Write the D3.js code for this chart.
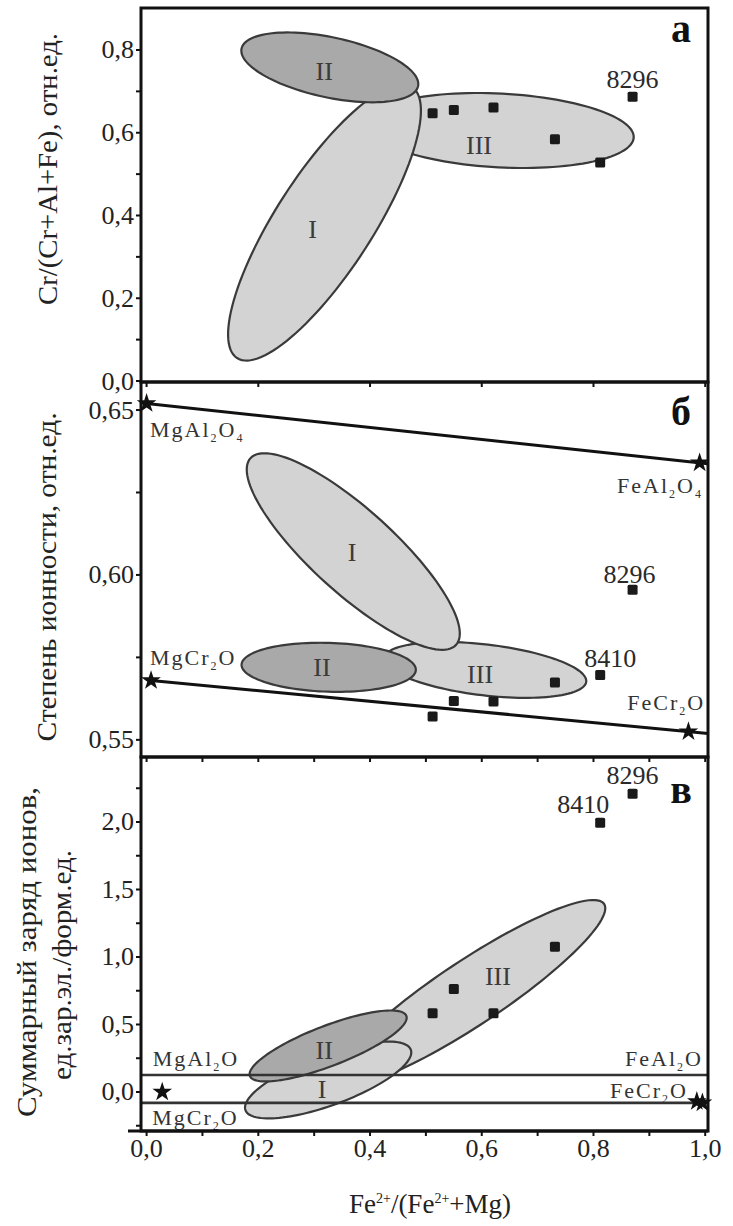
<!DOCTYPE html>
<html>
<head>
<meta charset="utf-8">
<script src="https://cdn.jsdelivr.net/npm/d3@7"></script>
<style>
body{margin:0;background:#fff}
text{font-family:"Liberation Serif","Times New Roman",serif;fill:#222}
</style>
</head>
<body>
<div id="chart"></div>
<script>
var width = 733,
	height = 1226;

// samples: Fe2+/(Fe2++Mg) and the three parameters
var sampleNames = ["", "", "", "", "8410", "8296"];
var feRatio = [0.512, 0.550, 0.621, 0.731, 0.812, 0.870];
var crNumber = [0.647, 0.655, 0.661, 0.584, 0.528, 0.687];
var ionicity = [0.5571, 0.5618, 0.5616, 0.5674, 0.5697, 0.5955];
var charge = [0.583, 0.763, 0.583, 1.076, 1.995, 2.21];

// fields I-III: centre, end of long axis, short/long ratio, label point
var fieldsA = [
	{name:"III", c:[0.633,0.6054], e:[0.872,0.5885], r:0.276, l:[0.595,0.570]},
	{name:"I",   c:[0.3185,0.383], e:[0.475,0.7106], r:0.30,  l:[0.297,0.365]},
	{name:"II",  c:[0.328,0.758],  e:[0.486,0.7125], r:0.333, l:[0.318,0.747]}
];
var fieldsB = [
	{name:"III", c:[0.606,0.5712], e:[0.787,0.5676], r:0.25, l:[0.597,0.5697]},
	{name:"I",   c:[0.370,0.6071], e:[0.554,0.5788], r:0.30, l:[0.368,0.6067]},
	{name:"II",  c:[0.326,0.5720], e:[0.482,0.5712], r:0.28, l:[0.314,0.5718]}
];
var fieldsC = [
	{name:"III", c:[0.579,0.733], e:[0.819,1.393], r:0.20,  l:[0.629,0.852]},
	{name:"I",   c:[0.325,0.089], e:[0.473,0.313], r:0.287, l:[0.314,0.015]},
	{name:"II",  c:[0.325,0.341], e:[0.465,0.564], r:0.24,  l:[0.318,0.311]}
];

// end members (spinel, hercynite, magnesiochromite, chromite)
var endX = [0.0, 0.99, 0.008, 0.97];
var endIonicity = [0.652, 0.634, 0.568, 0.5525];
var chargeLevels = [0.126, -0.081];
var chargeStarX = [0.028, 0.985, 0.995];
var chargeStarY = [0.0, -0.07, -0.08];

var labelsB = [
	{t:"MgAl_2O_4", x:0.006, y:0.6418, a:"start"},
	{t:"FeAl_2O_4", x:0.996, y:0.6248, a:"end"},
	{t:"MgCr_2O",   x:0.006, y:0.5727, a:"start"},
	{t:"FeCr_2O",   x:1.0,   y:0.5591, a:"end"}
];
var labelsC = [
	{t:"MgAl_2O", x:0.011, y:0.193,  a:"start"},
	{t:"FeAl_2O", x:0.996, y:0.193,  a:"end"},
	{t:"FeCr_2O", x:0.969, y:-0.044, a:"end"},
	{t:"MgCr_2O", x:0.010, y:-0.244, a:"start"}
];

var xTicks = [0, 0.2, 0.4, 0.6, 0.8, 1.0];
var yTicksA = [0, 0.2, 0.4, 0.6, 0.8];
var yTicksB = [0.55, 0.60, 0.65];
var yTicksC = [0, 0.5, 1.0, 1.5, 2.0];

var left = 141, right = 708;

var svg = d3.select("#chart").append("svg")
	.attr("width", width)
	.attr("height", height)
	.style("background-color", "#fff");

var x = d3.scaleLinear().domain([-0.01, 1.005]).range([left, right]);

var panels = [
	{top:8,   bottom:382,  y:d3.scaleLinear().domain([0, 0.9015]).range([381, 8]),
	 ticks:yTicksA, minor:d3.range(0, 0.85, 0.1), fmt:".1f", xminor:0.2, letter:"а", ly:42},
	{top:382, bottom:757,  y:d3.scaleLinear().domain([0.5448, 0.6585]).range([757, 382]),
	 ticks:yTicksB, minor:d3.range(0.55, 0.651, 0.025), fmt:".2f", xminor:0.1, letter:"б", ly:425},
	{top:757, bottom:1131, y:d3.scaleLinear().domain([-0.289, 2.4815]).range([1131, 757]),
	 ticks:yTicksC, minor:d3.range(-0.25, 2.3, 0.25), fmt:".1f", xminor:0.1, letter:"в", ly:803}
];

function comma(f){
	var g = d3.format(f);
	return function(v){ return g(v).replace(".", ","); };
}

function ellipsePath(f, y){
	var cx = x(f.c[0]), cy = y(f.c[1]);
	var ux = x(f.e[0]) - cx, uy = y(f.e[1]) - cy;
	var vx = -uy * f.r, vy = ux * f.r;
	var pts = d3.range(0, 360, 3).map(function(t){
		var a = t * Math.PI / 180;
		return [cx + ux*Math.cos(a) + vx*Math.sin(a), cy + uy*Math.cos(a) + vy*Math.sin(a)];
	});
	return d3.line().curve(d3.curveLinearClosed)(pts);
}

// formula label, "_2" is a subscript
function chem(g, d, y, size){
	var t = g.append("text")
		.attr("x", x(d.x))
		.attr("y", y(d.y))
		.attr("text-anchor", d.a)
		.style("font-size", size + "px")
		.style("letter-spacing", "2px")
		.style("fill", "#333");
	var shift = 0;
	d.t.split(/(_\d)/).forEach(function(part){
		if(part === "") return;
		if(part[0] === "_"){
			t.append("tspan").attr("dy", 5 - shift).style("font-size", "12px").text(part[1]);
			shift = 5;
		} else {
			t.append("tspan").attr("dy", -shift).text(part);
			shift = 0;
		}
	});
}

var star = d3.symbol().type(d3.symbolStar).size(120);

function drawFields(g, fields, y){
	g.selectAll(".field")
		.data(fields)
		.enter()
		.append("path")
		.attr("d", function(f){ return ellipsePath(f, y); })
		.attr("fill", function(f){ return f.name === "II" ? "#a9a9a9" : "#d3d3d3"; })
		.attr("stroke", "#3a3a3a")
		.attr("stroke-width", 2.2);

	g.selectAll(".fieldLabel")
		.data(fields)
		.enter()
		.append("text")
		.attr("x", function(f){ return x(f.l[0]); })
		.attr("y", function(f){ return y(f.l[1]); })
		.attr("text-anchor", "middle")
		.attr("dominant-baseline", "central")
		.style("font-size", "26px")
		.style("fill", "#3a3a3a")
		.text(function(f){ return f.name; });
}

function drawPoints(g, values, y, labelled, dx, dy){
	var idx = d3.range(feRatio.length);
	g.selectAll(".pt")
		.data(idx)
		.enter()
		.append("rect")
		.attr("x", function(i){ return x(feRatio[i]) - 5; })
		.attr("y", function(i){ return y(values[i]) - 5; })
		.attr("width", 10)
		.attr("height", 10)
		.attr("rx", 1.5)
		.attr("fill", "#1a1a1a");

	g.selectAll(".ptLabel")
		.data(labelled)
		.enter()
		.append("text")
		.attr("x", function(i, k){ return x(feRatio[i]) + dx[k]; })
		.attr("y", function(i, k){ return y(values[i]) + dy[k]; })
		.attr("text-anchor", "middle")
		.style("font-size", "26px")
		.style("fill", "#2a2a2a")
		.text(function(i){ return sampleNames[i]; });
}

// panel contents
var pA = panels[0], pB = panels[1], pC = panels[2];

var gA = svg.append("g");
drawFields(gA, fieldsA, pA.y);
drawPoints(gA, crNumber, pA.y, [5], [0], [-9]);

var gB = svg.append("g");
drawFields(gB, fieldsB, pB.y);
// joins MgAl2O4-FeAl2O4 and MgCr2O4-FeCr2O4, carried to the right frame
[[0, 1], [2, 3]].forEach(function(pair){
	var a = pair[0], b = pair[1];
	var slope = (endIonicity[b] - endIonicity[a]) / (endX[b] - endX[a]);
	var xEnd = x.domain()[1];
	gB.append("line")
		.attr("x1", x(endX[a]))
		.attr("y1", pB.y(endIonicity[a]))
		.attr("x2", x(xEnd))
		.attr("y2", pB.y(endIonicity[a] + slope * (xEnd - endX[a])))
		.attr("stroke", "#111")
		.attr("stroke-width", 3);
});
gB.selectAll(".star")
	.data(endX)
	.enter()
	.append("path")
	.attr("d", star)
	.attr("transform", function(d, i){ return "translate(" + x(d) + "," + pB.y(endIonicity[i]) + ")"; })
	.attr("fill", "#111");
drawPoints(gB, ionicity, pB.y, [4, 5], [10, -3], [-8, -7]);
labelsB.forEach(function(d){ chem(gB, d, pB.y, 22); });

var gC = svg.append("g");
drawFields(gC, fieldsC, pC.y);
gC.selectAll(".level")
	.data(chargeLevels)
	.enter()
	.append("line")
	.attr("x1", left)
	.attr("x2", right)
	.attr("y1", function(d){ return pC.y(d); })
	.attr("y2", function(d){ return pC.y(d); })
	.attr("stroke", "#333")
	.attr("stroke-width", 2.6);
gC.selectAll(".star")
	.data(chargeStarX)
	.enter()
	.append("path")
	.attr("d", star)
	.attr("transform", function(d, i){ return "translate(" + x(d) + "," + pC.y(chargeStarY[i]) + ")"; })
	.attr("fill", "#111");
drawPoints(gC, charge, pC.y, [4, 5], [-17, 0], [-10, -10]);
labelsC.forEach(function(d){ chem(gC, d, pC.y, 22); });

// frames, ticks, tick labels
panels.forEach(function(p, k){
	var g = svg.append("g");
	g.append("rect")
		.attr("x", left)
		.attr("y", p.top)
		.attr("width", right - left)
		.attr("height", p.bottom - p.top)
		.attr("fill", "none")
		.attr("stroke", "#111")
		.attr("stroke-width", 3);

	g.selectAll(".xt")
		.data(d3.range(0, 1.001, p.xminor))
		.enter()
		.append("line")
		.attr("x1", function(d){ return x(d); })
		.attr("x2", function(d){ return x(d); })
		.attr("y1", p.bottom)
		.attr("y2", p.bottom + 5)
		.attr("stroke", "#111")
		.attr("stroke-width", 2);

	g.selectAll(".yt")
		.data(p.minor)
		.enter()
		.append("line")
		.attr("x1", left - 5)
		.attr("x2", left)
		.attr("y1", function(d){ return p.y(d); })
		.attr("y2", function(d){ return p.y(d); })
		.attr("stroke", "#111")
		.attr("stroke-width", 2);

	var f = comma(p.fmt);
	g.selectAll(".yl")
		.data(p.ticks)
		.enter()
		.append("text")
		.attr("x", left - 7)
		.attr("y", function(d){ return p.y(d); })
		.attr("text-anchor", "end")
		.attr("dominant-baseline", "central")
		.style("font-size", "26px")
		.text(f);

	g.append("text")
		.attr("x", 681)
		.attr("y", p.ly)
		.attr("text-anchor", "middle")
		.style("font-size", "40px")
		.style("font-weight", "bold")
		.style("fill", "#111")
		.text(p.letter);
});

svg.append("line")
	.attr("x1", 128).attr("x2", right)
	.attr("y1", pC.bottom).attr("y2", pC.bottom)
	.attr("stroke", "#111").attr("stroke-width", 3);

svg.selectAll(".xl")
	.data(xTicks)
	.enter()
	.append("text")
	.attr("x", function(d){ return x(d); })
	.attr("y", 1157)
	.attr("text-anchor", "middle")
	.style("font-size", "26px")
	.text(comma(".1f"));

// axis titles
function rotated(tx, ty, txt, len){
	svg.append("text")
		.attr("transform", "translate(" + tx + "," + ty + ") rotate(-90)")
		.attr("text-anchor", "middle")
		.attr("textLength", len)
		.attr("lengthAdjust", "spacingAndGlyphs")
		.style("font-size", "27px")
		.text(txt);
}
rotated(57, 169, "Cr/(Cr+Al+Fe), отн.ед.", 272);
rotated(56, 577, "Степень ионности, отн.ед.", 329);
rotated(36, 952, "Суммарный заряд ионов,", 330);
rotated(71, 965, "ед.зар.эл./форм.ед.", 230);

var xt = svg.append("text")
	.attr("x", 430)
	.attr("y", 1213)
	.attr("text-anchor", "middle")
	.style("font-size", "27px");
xt.append("tspan").text("Fe");
xt.append("tspan").attr("dy", -10).style("font-size", "14px").text("2+");
xt.append("tspan").attr("dy", 10).text("/(Fe");
xt.append("tspan").attr("dy", -10).style("font-size", "14px").text("2+");
xt.append("tspan").attr("dy", 10).text("+Mg)");
</script>
</body>
</html>
